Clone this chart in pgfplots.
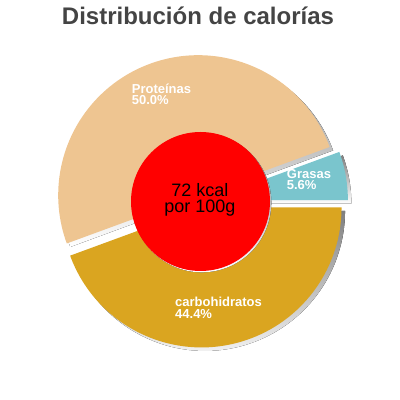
\documentclass[border=0pt]{standalone}
\usepackage{fontspec}
\setmainfont{Liberation Sans}
\usepackage{pgfplots}
\usepackage{pgfplotstable}
\pgfplotsset{compat=1.18}

\definecolor{colA}{HTML}{7AC5CD}
\definecolor{colB}{HTML}{EEC591}
\definecolor{colC}{HTML}{DAA520}
\definecolor{shade}{HTML}{666666}
\definecolor{titlegray}{HTML}{444444}

% share of calories (percent) and how far each slice is pulled out (px)
\pgfplotstableread{
idx pct explode
0   5.6  7.5
1   50.0 6.7
2   44.4 6.0
}\calories

\def\pcx{200.5}\def\pcy{198.5}\def\pR{140}
\gdef\pcum{0}
\foreach \i/\n in {0/A,1/B,2/C} {%
  \pgfplotstablegetelem{\i}{pct}\of\calories \let\slp\pgfplotsretval
  \pgfplotstablegetelem{\i}{explode}\of\calories \let\sle\pgfplotsretval
  \pgfmathsetmacro\sls{\pcum*3.6}%
  \pgfmathsetmacro\sln{(\pcum+\slp)*3.6}%
  \pgfmathsetmacro\slm{(\sls+\sln)/2}%
  \pgfmathsetmacro\slx{\pcx+\sle*cos(\slm)}%
  \pgfmathsetmacro\sly{\pcy+\sle*sin(\slm)}%
  \pgfmathsetmacro\slxs{\slx+3.5}%
  \pgfmathsetmacro\slys{\sly-3.5}%
  \expandafter\xdef\csname s\n\endcsname{\sls}%
  \expandafter\xdef\csname e\n\endcsname{\sln}%
  \expandafter\xdef\csname x\n\endcsname{\slx}%
  \expandafter\xdef\csname y\n\endcsname{\sly}%
  \expandafter\xdef\csname xs\n\endcsname{\slxs}%
  \expandafter\xdef\csname ys\n\endcsname{\slys}%
  \pgfmathsetmacro\pnew{\pcum+\slp}%
  \global\let\pcum\pnew
}

\begin{document}
\begin{tikzpicture}
\begin{axis}[
    at={(0,0)}, anchor=south west,
    hide axis, scale only axis,
    x=1bp, y=1bp,
    xmin=0, xmax=400, ymin=0, ymax=400,
    clip=false
]
% shadows
\pgfplotsinvokeforeach{A,B,C}{
  \fill[shade] (axis cs:\csname xs#1\endcsname,\csname ys#1\endcsname)
    -- ++(\csname s#1\endcsname:\pR bp)
    arc[start angle=\csname s#1\endcsname, end angle=\csname e#1\endcsname, radius=\pR bp]
    -- cycle;
}
% slices
\pgfplotsinvokeforeach{A,B,C}{
  \fill[col#1] (axis cs:\csname x#1\endcsname,\csname y#1\endcsname)
    -- ++(\csname s#1\endcsname:\pR bp)
    arc[start angle=\csname s#1\endcsname, end angle=\csname e#1\endcsname, radius=\pR bp]
    -- cycle;
}
% centre disc
\fill[shade] (axis cs:201.8,197.2) circle[radius=69.5bp];
\fill[red] (axis cs:\pcx,\pcy) circle[radius=69.5bp];

\begin{scope}[every node/.style={inner sep=0pt, anchor=base west, text=white,
    font=\bfseries\fontsize{13bp}{14bp}\selectfont}]
\node at (axis cs:131.7,306.5) {Proteínas};
\node at (axis cs:131.7,295.0) {50.0\%};
\node at (axis cs:286.7,221.7) {Grasas};
\node at (axis cs:286.7,210.0) {5.6\%};
\node at (axis cs:175.0,93.3) {carbohidratos};
\node at (axis cs:175.0,81.7) {44.4\%};
\end{scope}

\node[inner sep=0pt, anchor=base, font=\fontsize{18bp}{20bp}\selectfont] at (axis cs:200,203.3) {72 kcal};
\node[inner sep=0pt, anchor=base, font=\fontsize{18bp}{20bp}\selectfont] at (axis cs:200,187.0) {por 100g};

\node[inner sep=0pt, anchor=base, text=titlegray,
      font=\bfseries\fontsize{24bp}{28bp}\selectfont] at (axis cs:198,375) {Distribución de calorías};
\end{axis}
\pgfresetboundingbox
\path (0,0) rectangle (400bp,400bp);
\end{tikzpicture}
\end{document}
